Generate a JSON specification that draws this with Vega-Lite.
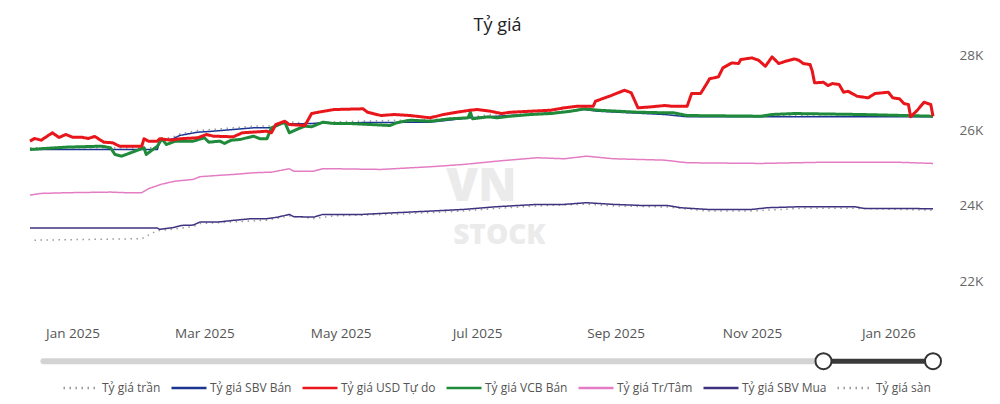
{
  "$schema": "https://vega.github.io/schema/vega-lite/v6.json",
  "width": 903,
  "height": 279,
  "autosize": {"type": "none"},
  "padding": {"left": 30, "top": 40, "right": 67, "bottom": 85},
  "background": "white",
  "title": {"text": "Tỷ giá", "fontSize": 18, "font": "Open Sans", "fontWeight": "normal", "color": "#222222", "anchor": "middle", "frame": "group", "dx": 16, "offset": 5},
  "config": {"view": {"stroke": null}},
  "layer": [
    {
      "data": {"values": [
        {"d": "2024-12-13", "s": "Tỷ giá trần", "v": 25540},
        {"d": "2025-02-08", "s": "Tỷ giá trần", "v": 25545},
        {"d": "2025-02-09", "s": "Tỷ giá trần", "v": 25760},
        {"d": "2025-02-15", "s": "Tỷ giá trần", "v": 25830},
        {"d": "2025-02-18", "s": "Tỷ giá trần", "v": 25910},
        {"d": "2025-02-26", "s": "Tỷ giá trần", "v": 26000},
        {"d": "2025-03-05", "s": "Tỷ giá trần", "v": 26030},
        {"d": "2025-03-14", "s": "Tỷ giá trần", "v": 26070},
        {"d": "2025-03-23", "s": "Tỷ giá trần", "v": 26115},
        {"d": "2025-03-31", "s": "Tỷ giá trần", "v": 26120},
        {"d": "2025-04-08", "s": "Tỷ giá trần", "v": 26230},
        {"d": "2025-04-19", "s": "Tỷ giá trần", "v": 26170},
        {"d": "2025-04-28", "s": "Tỷ giá trần", "v": 26230},
        {"d": "2025-06-10", "s": "Tỷ giá trần", "v": 26290},
        {"d": "2025-06-28", "s": "Tỷ giá trần", "v": 26355},
        {"d": "2025-07-10", "s": "Tỷ giá trần", "v": 26445},
        {"d": "2025-08-09", "s": "Tỷ giá trần", "v": 26510},
        {"d": "2025-08-19", "s": "Tỷ giá trần", "v": 26585},
        {"d": "2025-08-31", "s": "Tỷ giá trần", "v": 26510},
        {"d": "2025-09-23", "s": "Tỷ giá trần", "v": 26475},
        {"d": "2025-10-03", "s": "Tỷ giá trần", "v": 26400},
        {"d": "2025-11-05", "s": "Tỷ giá trần", "v": 26380},
        {"d": "2025-12-05", "s": "Tỷ giá trần", "v": 26420},
        {"d": "2026-01-21", "s": "Tỷ giá trần", "v": 26380},

        {"d": "2024-12-15", "s": "Tỷ giá sàn", "v": 23090},
        {"d": "2025-02-01", "s": "Tỷ giá sàn", "v": 23130},
        {"d": "2025-02-06", "s": "Tỷ giá sàn", "v": 23290},
        {"d": "2025-02-09", "s": "Tỷ giá sàn", "v": 23350},
        {"d": "2025-02-15", "s": "Tỷ giá sàn", "v": 23380},
        {"d": "2025-02-24", "s": "Tỷ giá sàn", "v": 23450},
        {"d": "2025-02-27", "s": "Tỷ giá sàn", "v": 23530},
        {"d": "2025-03-14", "s": "Tỷ giá sàn", "v": 23575},
        {"d": "2025-03-29", "s": "Tỷ giá sàn", "v": 23620},
        {"d": "2025-04-08", "s": "Tỷ giá sàn", "v": 23735},
        {"d": "2025-04-19", "s": "Tỷ giá sàn", "v": 23665},
        {"d": "2025-04-28", "s": "Tỷ giá sàn", "v": 23735},
        {"d": "2025-05-26", "s": "Tỷ giá sàn", "v": 23780},
        {"d": "2025-06-10", "s": "Tỷ giá sàn", "v": 23820},
        {"d": "2025-06-25", "s": "Tỷ giá sàn", "v": 23865},
        {"d": "2025-07-10", "s": "Tỷ giá sàn", "v": 23935},
        {"d": "2025-07-28", "s": "Tỷ giá sàn", "v": 24000},
        {"d": "2025-08-19", "s": "Tỷ giá sàn", "v": 24045},
        {"d": "2025-08-31", "s": "Tỷ giá sàn", "v": 24000},
        {"d": "2025-09-24", "s": "Tỷ giá sàn", "v": 23970},
        {"d": "2025-10-12", "s": "Tỷ giá sàn", "v": 23865},
        {"d": "2025-11-01", "s": "Tỷ giá sàn", "v": 23865},
        {"d": "2025-11-23", "s": "Tỷ giá sàn", "v": 23935},
        {"d": "2025-12-17", "s": "Tỷ giá sàn", "v": 23935},
        {"d": "2026-01-21", "s": "Tỷ giá sàn", "v": 23885},

        {"d": "2024-12-13", "s": "Tỷ giá SBV Mua", "v": 23412},
        {"d": "2025-02-08", "s": "Tỷ giá SBV Mua", "v": 23412},
        {"d": "2025-02-09", "s": "Tỷ giá SBV Mua", "v": 23378},
        {"d": "2025-02-15", "s": "Tỷ giá SBV Mua", "v": 23423},
        {"d": "2025-02-19", "s": "Tỷ giá SBV Mua", "v": 23483},
        {"d": "2025-02-24", "s": "Tỷ giá SBV Mua", "v": 23491},
        {"d": "2025-02-27", "s": "Tỷ giá SBV Mua", "v": 23571},
        {"d": "2025-03-07", "s": "Tỷ giá SBV Mua", "v": 23571},
        {"d": "2025-03-14", "s": "Tỷ giá SBV Mua", "v": 23616},
        {"d": "2025-03-22", "s": "Tỷ giá SBV Mua", "v": 23661},
        {"d": "2025-03-29", "s": "Tỷ giá SBV Mua", "v": 23661},
        {"d": "2025-04-03", "s": "Tỷ giá SBV Mua", "v": 23703},
        {"d": "2025-04-08", "s": "Tỷ giá SBV Mua", "v": 23775},
        {"d": "2025-04-10", "s": "Tỷ giá SBV Mua", "v": 23714},
        {"d": "2025-04-19", "s": "Tỷ giá SBV Mua", "v": 23703},
        {"d": "2025-04-23", "s": "Tỷ giá SBV Mua", "v": 23775},
        {"d": "2025-05-11", "s": "Tỷ giá SBV Mua", "v": 23775},
        {"d": "2025-05-26", "s": "Tỷ giá SBV Mua", "v": 23820},
        {"d": "2025-06-10", "s": "Tỷ giá SBV Mua", "v": 23862},
        {"d": "2025-06-25", "s": "Tỷ giá SBV Mua", "v": 23907},
        {"d": "2025-07-10", "s": "Tỷ giá SBV Mua", "v": 23979},
        {"d": "2025-07-28", "s": "Tỷ giá SBV Mua", "v": 24040},
        {"d": "2025-08-09", "s": "Tỷ giá SBV Mua", "v": 24040},
        {"d": "2025-08-19", "s": "Tỷ giá SBV Mua", "v": 24085},
        {"d": "2025-08-31", "s": "Tỷ giá SBV Mua", "v": 24040},
        {"d": "2025-09-12", "s": "Tỷ giá SBV Mua", "v": 24013},
        {"d": "2025-09-24", "s": "Tỷ giá SBV Mua", "v": 24013},
        {"d": "2025-09-30", "s": "Tỷ giá SBV Mua", "v": 23952},
        {"d": "2025-10-12", "s": "Tỷ giá SBV Mua", "v": 23907},
        {"d": "2025-11-01", "s": "Tỷ giá SBV Mua", "v": 23907},
        {"d": "2025-11-08", "s": "Tỷ giá SBV Mua", "v": 23952},
        {"d": "2025-11-23", "s": "Tỷ giá SBV Mua", "v": 23979},
        {"d": "2025-12-17", "s": "Tỷ giá SBV Mua", "v": 23979},
        {"d": "2025-12-21", "s": "Tỷ giá SBV Mua", "v": 23934},
        {"d": "2026-01-21", "s": "Tỷ giá SBV Mua", "v": 23926},

        {"d": "2024-12-13", "s": "Tỷ giá Tr/Tâm", "v": 24286},
        {"d": "2024-12-18", "s": "Tỷ giá Tr/Tâm", "v": 24331},
        {"d": "2024-12-30", "s": "Tỷ giá Tr/Tâm", "v": 24350},
        {"d": "2025-01-18", "s": "Tỷ giá Tr/Tâm", "v": 24366},
        {"d": "2025-01-25", "s": "Tỷ giá Tr/Tâm", "v": 24350},
        {"d": "2025-02-01", "s": "Tỷ giá Tr/Tâm", "v": 24350},
        {"d": "2025-02-04", "s": "Tỷ giá Tr/Tâm", "v": 24456},
        {"d": "2025-02-10", "s": "Tỷ giá Tr/Tâm", "v": 24578},
        {"d": "2025-02-16", "s": "Tỷ giá Tr/Tâm", "v": 24657},
        {"d": "2025-02-24", "s": "Tỷ giá Tr/Tâm", "v": 24702},
        {"d": "2025-02-27", "s": "Tỷ giá Tr/Tâm", "v": 24774},
        {"d": "2025-03-07", "s": "Tỷ giá Tr/Tâm", "v": 24808},
        {"d": "2025-03-14", "s": "Tỷ giá Tr/Tâm", "v": 24834},
        {"d": "2025-03-23", "s": "Tỷ giá Tr/Tâm", "v": 24879},
        {"d": "2025-03-31", "s": "Tỷ giá Tr/Tâm", "v": 24895},
        {"d": "2025-04-08", "s": "Tỷ giá Tr/Tâm", "v": 24985},
        {"d": "2025-04-10", "s": "Tỷ giá Tr/Tâm", "v": 24922},
        {"d": "2025-04-19", "s": "Tỷ giá Tr/Tâm", "v": 24922},
        {"d": "2025-04-23", "s": "Tỷ giá Tr/Tâm", "v": 24985},
        {"d": "2025-04-28", "s": "Tỷ giá Tr/Tâm", "v": 24985},
        {"d": "2025-05-19", "s": "Tỷ giá Tr/Tâm", "v": 24967},
        {"d": "2025-06-10", "s": "Tỷ giá Tr/Tâm", "v": 25038},
        {"d": "2025-06-25", "s": "Tỷ giá Tr/Tâm", "v": 25099},
        {"d": "2025-07-10", "s": "Tỷ giá Tr/Tâm", "v": 25187},
        {"d": "2025-07-28", "s": "Tỷ giá Tr/Tâm", "v": 25277},
        {"d": "2025-08-09", "s": "Tỷ giá Tr/Tâm", "v": 25250},
        {"d": "2025-08-19", "s": "Tỷ giá Tr/Tâm", "v": 25319},
        {"d": "2025-08-31", "s": "Tỷ giá Tr/Tâm", "v": 25250},
        {"d": "2025-09-23", "s": "Tỷ giá Tr/Tâm", "v": 25213},
        {"d": "2025-10-03", "s": "Tỷ giá Tr/Tâm", "v": 25144},
        {"d": "2025-11-05", "s": "Tỷ giá Tr/Tâm", "v": 25126},
        {"d": "2025-12-05", "s": "Tỷ giá Tr/Tâm", "v": 25160},
        {"d": "2026-01-04", "s": "Tỷ giá Tr/Tâm", "v": 25160},
        {"d": "2026-01-21", "s": "Tỷ giá Tr/Tâm", "v": 25126},

        {"d": "2024-12-13", "s": "Tỷ giá SBV Bán", "v": 25497},
        {"d": "2025-02-08", "s": "Tỷ giá SBV Bán", "v": 25497},
        {"d": "2025-02-09", "s": "Tỷ giá SBV Bán", "v": 25717},
        {"d": "2025-02-15", "s": "Tỷ giá SBV Bán", "v": 25780},
        {"d": "2025-02-18", "s": "Tỷ giá SBV Bán", "v": 25868},
        {"d": "2025-02-26", "s": "Tỷ giá SBV Bán", "v": 25955},
        {"d": "2025-03-05", "s": "Tỷ giá SBV Bán", "v": 25981},
        {"d": "2025-03-14", "s": "Tỷ giá SBV Bán", "v": 26026},
        {"d": "2025-03-23", "s": "Tỷ giá SBV Bán", "v": 26072},
        {"d": "2025-03-31", "s": "Tỷ giá SBV Bán", "v": 26072},
        {"d": "2025-04-04", "s": "Tỷ giá SBV Bán", "v": 26185},
        {"d": "2025-04-10", "s": "Tỷ giá SBV Bán", "v": 26177},
        {"d": "2025-04-18", "s": "Tỷ giá SBV Bán", "v": 26185},
        {"d": "2025-04-22", "s": "Tỷ giá SBV Bán", "v": 26204},
        {"d": "2025-04-28", "s": "Tỷ giá SBV Bán", "v": 26204},
        {"d": "2025-06-10", "s": "Tỷ giá SBV Bán", "v": 26220},
        {"d": "2025-06-28", "s": "Tỷ giá SBV Bán", "v": 26336},
        {"d": "2025-08-09", "s": "Tỷ giá SBV Bán", "v": 26485},
        {"d": "2025-08-18", "s": "Tỷ giá SBV Bán", "v": 26556},
        {"d": "2025-08-24", "s": "Tỷ giá SBV Bán", "v": 26511},
        {"d": "2025-09-23", "s": "Tỷ giá SBV Bán", "v": 26424},
        {"d": "2025-10-03", "s": "Tỷ giá SBV Bán", "v": 26363},
        {"d": "2025-11-05", "s": "Tỷ giá SBV Bán", "v": 26363},
        {"d": "2026-01-21", "s": "Tỷ giá SBV Bán", "v": 26363},

        {"d": "2024-12-13", "s": "Tỷ giá VCB Bán", "v": 25497},
        {"d": "2024-12-29", "s": "Tỷ giá VCB Bán", "v": 25558},
        {"d": "2025-01-14", "s": "Tỷ giá VCB Bán", "v": 25584},
        {"d": "2025-01-18", "s": "Tỷ giá VCB Bán", "v": 25542},
        {"d": "2025-01-20", "s": "Tỷ giá VCB Bán", "v": 25364},
        {"d": "2025-01-23", "s": "Tỷ giá VCB Bán", "v": 25319},
        {"d": "2025-01-31", "s": "Tỷ giá VCB Bán", "v": 25497},
        {"d": "2025-02-02", "s": "Tỷ giá VCB Bán", "v": 25542},
        {"d": "2025-02-03", "s": "Tỷ giá VCB Bán", "v": 25364},
        {"d": "2025-02-08", "s": "Tỷ giá VCB Bán", "v": 25584},
        {"d": "2025-02-10", "s": "Tỷ giá VCB Bán", "v": 25780},
        {"d": "2025-02-12", "s": "Tỷ giá VCB Bán", "v": 25629},
        {"d": "2025-02-16", "s": "Tỷ giá VCB Bán", "v": 25717},
        {"d": "2025-02-24", "s": "Tỷ giá VCB Bán", "v": 25717},
        {"d": "2025-03-01", "s": "Tỷ giá VCB Bán", "v": 25807},
        {"d": "2025-03-03", "s": "Tỷ giá VCB Bán", "v": 25690},
        {"d": "2025-03-08", "s": "Tỷ giá VCB Bán", "v": 25717},
        {"d": "2025-03-10", "s": "Tỷ giá VCB Bán", "v": 25656},
        {"d": "2025-03-13", "s": "Tỷ giá VCB Bán", "v": 25743},
        {"d": "2025-03-17", "s": "Tỷ giá VCB Bán", "v": 25762},
        {"d": "2025-03-23", "s": "Tỷ giá VCB Bán", "v": 25849},
        {"d": "2025-03-26", "s": "Tỷ giá VCB Bán", "v": 25780},
        {"d": "2025-03-29", "s": "Tỷ giá VCB Bán", "v": 25780},
        {"d": "2025-03-31", "s": "Tỷ giá VCB Bán", "v": 26072},
        {"d": "2025-04-06", "s": "Tỷ giá VCB Bán", "v": 26220},
        {"d": "2025-04-08", "s": "Tỷ giá VCB Bán", "v": 25939},
        {"d": "2025-04-12", "s": "Tỷ giá VCB Bán", "v": 26045},
        {"d": "2025-04-15", "s": "Tỷ giá VCB Bán", "v": 26114},
        {"d": "2025-04-18", "s": "Tỷ giá VCB Bán", "v": 26098},
        {"d": "2025-04-23", "s": "Tỷ giá VCB Bán", "v": 26220},
        {"d": "2025-04-28", "s": "Tỷ giá VCB Bán", "v": 26185},
        {"d": "2025-05-05", "s": "Tỷ giá VCB Bán", "v": 26185},
        {"d": "2025-05-14", "s": "Tỷ giá VCB Bán", "v": 26159},
        {"d": "2025-05-23", "s": "Tỷ giá VCB Bán", "v": 26132},
        {"d": "2025-05-26", "s": "Tỷ giá VCB Bán", "v": 26204},
        {"d": "2025-06-01", "s": "Tỷ giá VCB Bán", "v": 26273},
        {"d": "2025-06-10", "s": "Tỷ giá VCB Bán", "v": 26246},
        {"d": "2025-06-19", "s": "Tỷ giá VCB Bán", "v": 26310},
        {"d": "2025-06-27", "s": "Tỷ giá VCB Bán", "v": 26336},
        {"d": "2025-06-28", "s": "Tỷ giá VCB Bán", "v": 26485},
        {"d": "2025-06-29", "s": "Tỷ giá VCB Bán", "v": 26310},
        {"d": "2025-07-06", "s": "Tỷ giá VCB Bán", "v": 26363},
        {"d": "2025-07-10", "s": "Tỷ giá VCB Bán", "v": 26336},
        {"d": "2025-07-16", "s": "Tỷ giá VCB Bán", "v": 26379},
        {"d": "2025-07-25", "s": "Tỷ giá VCB Bán", "v": 26424},
        {"d": "2025-08-03", "s": "Tỷ giá VCB Bán", "v": 26450},
        {"d": "2025-08-12", "s": "Tỷ giá VCB Bán", "v": 26511},
        {"d": "2025-08-18", "s": "Tỷ giá VCB Bán", "v": 26575},
        {"d": "2025-08-24", "s": "Tỷ giá VCB Bán", "v": 26538},
        {"d": "2025-09-02", "s": "Tỷ giá VCB Bán", "v": 26511},
        {"d": "2025-09-11", "s": "Tỷ giá VCB Bán", "v": 26485},
        {"d": "2025-09-23", "s": "Tỷ giá VCB Bán", "v": 26469},
        {"d": "2025-09-27", "s": "Tỷ giá VCB Bán", "v": 26469},
        {"d": "2025-10-03", "s": "Tỷ giá VCB Bán", "v": 26397},
        {"d": "2025-11-05", "s": "Tỷ giá VCB Bán", "v": 26379},
        {"d": "2025-11-10", "s": "Tỷ giá VCB Bán", "v": 26424},
        {"d": "2025-11-20", "s": "Tỷ giá VCB Bán", "v": 26450},
        {"d": "2025-12-20", "s": "Tỷ giá VCB Bán", "v": 26424},
        {"d": "2026-01-21", "s": "Tỷ giá VCB Bán", "v": 26379},

        {"d": "2024-12-13", "s": "Tỷ giá USD Tự do", "v": 25717},
        {"d": "2024-12-15", "s": "Tỷ giá USD Tự do", "v": 25788},
        {"d": "2024-12-18", "s": "Tỷ giá USD Tự do", "v": 25743},
        {"d": "2024-12-23", "s": "Tỷ giá USD Tự do", "v": 25939},
        {"d": "2024-12-26", "s": "Tỷ giá USD Tự do", "v": 25815},
        {"d": "2024-12-29", "s": "Tỷ giá USD Tự do", "v": 25894},
        {"d": "2025-01-01", "s": "Tỷ giá USD Tự do", "v": 25823},
        {"d": "2025-01-05", "s": "Tỷ giá USD Tự do", "v": 25823},
        {"d": "2025-01-08", "s": "Tỷ giá USD Tự do", "v": 25788},
        {"d": "2025-01-11", "s": "Tỷ giá USD Tự do", "v": 25841},
        {"d": "2025-01-15", "s": "Tỷ giá USD Tự do", "v": 25690},
        {"d": "2025-01-19", "s": "Tỷ giá USD Tự do", "v": 25674},
        {"d": "2025-01-22", "s": "Tỷ giá USD Tự do", "v": 25584},
        {"d": "2025-02-01", "s": "Tỷ giá USD Tự do", "v": 25584},
        {"d": "2025-02-02", "s": "Tỷ giá USD Tự do", "v": 25780},
        {"d": "2025-02-04", "s": "Tỷ giá USD Tự do", "v": 25717},
        {"d": "2025-02-08", "s": "Tỷ giá USD Tự do", "v": 25717},
        {"d": "2025-02-09", "s": "Tỷ giá USD Tự do", "v": 25780},
        {"d": "2025-02-14", "s": "Tỷ giá USD Tự do", "v": 25743},
        {"d": "2025-02-18", "s": "Tỷ giá USD Tự do", "v": 25780},
        {"d": "2025-02-26", "s": "Tỷ giá USD Tự do", "v": 25807},
        {"d": "2025-03-02", "s": "Tỷ giá USD Tự do", "v": 25894},
        {"d": "2025-03-05", "s": "Tỷ giá USD Tự do", "v": 25849},
        {"d": "2025-03-14", "s": "Tỷ giá USD Tự do", "v": 25833},
        {"d": "2025-03-18", "s": "Tỷ giá USD Tự do", "v": 25939},
        {"d": "2025-03-29", "s": "Tỷ giá USD Tự do", "v": 25981},
        {"d": "2025-03-31", "s": "Tỷ giá USD Tự do", "v": 25939},
        {"d": "2025-04-02", "s": "Tỷ giá USD Tự do", "v": 26159},
        {"d": "2025-04-06", "s": "Tỷ giá USD Tự do", "v": 26246},
        {"d": "2025-04-08", "s": "Tỷ giá USD Tự do", "v": 26159},
        {"d": "2025-04-15", "s": "Tỷ giá USD Tự do", "v": 26132},
        {"d": "2025-04-18", "s": "Tỷ giá USD Tự do", "v": 26450},
        {"d": "2025-04-21", "s": "Tỷ giá USD Tự do", "v": 26485},
        {"d": "2025-04-28", "s": "Tỷ giá USD Tự do", "v": 26556},
        {"d": "2025-05-11", "s": "Tỷ giá USD Tự do", "v": 26575},
        {"d": "2025-05-13", "s": "Tỷ giá USD Tự do", "v": 26485},
        {"d": "2025-05-19", "s": "Tỷ giá USD Tự do", "v": 26397},
        {"d": "2025-05-25", "s": "Tỷ giá USD Tự do", "v": 26424},
        {"d": "2025-06-01", "s": "Tỷ giá USD Tự do", "v": 26397},
        {"d": "2025-06-10", "s": "Tỷ giá USD Tự do", "v": 26336},
        {"d": "2025-06-16", "s": "Tỷ giá USD Tự do", "v": 26424},
        {"d": "2025-06-22", "s": "Tỷ giá USD Tự do", "v": 26485},
        {"d": "2025-06-28", "s": "Tỷ giá USD Tự do", "v": 26538},
        {"d": "2025-07-01", "s": "Tỷ giá USD Tự do", "v": 26556},
        {"d": "2025-07-07", "s": "Tỷ giá USD Tự do", "v": 26511},
        {"d": "2025-07-12", "s": "Tỷ giá USD Tự do", "v": 26450},
        {"d": "2025-07-16", "s": "Tỷ giá USD Tự do", "v": 26485},
        {"d": "2025-07-25", "s": "Tỷ giá USD Tự do", "v": 26511},
        {"d": "2025-08-03", "s": "Tỷ giá USD Tự do", "v": 26538},
        {"d": "2025-08-09", "s": "Tỷ giá USD Tự do", "v": 26601},
        {"d": "2025-08-15", "s": "Tỷ giá USD Tự do", "v": 26644},
        {"d": "2025-08-22", "s": "Tỷ giá USD Tự do", "v": 26644},
        {"d": "2025-08-23", "s": "Tỷ giá USD Tự do", "v": 26776},
        {"d": "2025-08-30", "s": "Tỷ giá USD Tự do", "v": 26927},
        {"d": "2025-09-05", "s": "Tỷ giá USD Tự do", "v": 27068},
        {"d": "2025-09-08", "s": "Tỷ giá USD Tự do", "v": 26999},
        {"d": "2025-09-11", "s": "Tỷ giá USD Tự do", "v": 26601},
        {"d": "2025-09-17", "s": "Tỷ giá USD Tự do", "v": 26628},
        {"d": "2025-09-23", "s": "Tỷ giá USD Tự do", "v": 26662},
        {"d": "2025-09-26", "s": "Tỷ giá USD Tự do", "v": 26644},
        {"d": "2025-10-03", "s": "Tỷ giá USD Tự do", "v": 26644},
        {"d": "2025-10-05", "s": "Tỷ giá USD Tự do", "v": 26980},
        {"d": "2025-10-09", "s": "Tỷ giá USD Tự do", "v": 26980},
        {"d": "2025-10-12", "s": "Tỷ giá USD Tự do", "v": 27264},
        {"d": "2025-10-13", "s": "Tỷ giá USD Tự do", "v": 27370},
        {"d": "2025-10-17", "s": "Tỷ giá USD Tự do", "v": 27422},
        {"d": "2025-10-19", "s": "Tỷ giá USD Tự do", "v": 27661},
        {"d": "2025-10-23", "s": "Tỷ giá USD Tự do", "v": 27793},
        {"d": "2025-10-26", "s": "Tỷ giá USD Tự do", "v": 27775},
        {"d": "2025-10-27", "s": "Tỷ giá USD Tự do", "v": 27881},
        {"d": "2025-11-01", "s": "Tỷ giá USD Tự do", "v": 27926},
        {"d": "2025-11-04", "s": "Tỷ giá USD Tự do", "v": 27862},
        {"d": "2025-11-07", "s": "Tỷ giá USD Tự do", "v": 27703},
        {"d": "2025-11-10", "s": "Tỷ giá USD Tự do", "v": 27952},
        {"d": "2025-11-13", "s": "Tỷ giá USD Tự do", "v": 27775},
        {"d": "2025-11-16", "s": "Tỷ giá USD Tự do", "v": 27836},
        {"d": "2025-11-20", "s": "Tỷ giá USD Tự do", "v": 27899},
        {"d": "2025-11-22", "s": "Tỷ giá USD Tự do", "v": 27862},
        {"d": "2025-11-24", "s": "Tỷ giá USD Tự do", "v": 27775},
        {"d": "2025-11-27", "s": "Tỷ giá USD Tự do", "v": 27748},
        {"d": "2025-11-28", "s": "Tỷ giá USD Tự do", "v": 27571},
        {"d": "2025-11-29", "s": "Tỷ giá USD Tự do", "v": 27264},
        {"d": "2025-12-03", "s": "Tỷ giá USD Tự do", "v": 27279},
        {"d": "2025-12-05", "s": "Tỷ giá USD Tự do", "v": 27192},
        {"d": "2025-12-07", "s": "Tỷ giá USD Tự do", "v": 27245},
        {"d": "2025-12-10", "s": "Tỷ giá USD Tự do", "v": 27219},
        {"d": "2025-12-12", "s": "Tỷ giá USD Tự do", "v": 27015},
        {"d": "2025-12-14", "s": "Tỷ giá USD Tự do", "v": 27041},
        {"d": "2025-12-18", "s": "Tỷ giá USD Tự do", "v": 26909},
        {"d": "2025-12-23", "s": "Tỷ giá USD Tự do", "v": 26866},
        {"d": "2025-12-26", "s": "Tỷ giá USD Tự do", "v": 26980},
        {"d": "2026-01-01", "s": "Tỷ giá USD Tự do", "v": 27015},
        {"d": "2026-01-03", "s": "Tỷ giá USD Tự do", "v": 26866},
        {"d": "2026-01-06", "s": "Tỷ giá USD Tự do", "v": 26840},
        {"d": "2026-01-08", "s": "Tỷ giá USD Tự do", "v": 26715},
        {"d": "2026-01-10", "s": "Tỷ giá USD Tự do", "v": 26689},
        {"d": "2026-01-11", "s": "Tỷ giá USD Tự do", "v": 26363},
        {"d": "2026-01-14", "s": "Tỷ giá USD Tự do", "v": 26538},
        {"d": "2026-01-17", "s": "Tỷ giá USD Tự do", "v": 26750},
        {"d": "2026-01-20", "s": "Tỷ giá USD Tự do", "v": 26689},
        {"d": "2026-01-21", "s": "Tỷ giá USD Tự do", "v": 26379}
      ]},
      "mark": {"type": "line", "strokeJoin": "round", "zindex": 2},
      "encoding": {
        "x": {
          "field": "d", "type": "temporal",
          "scale": {"domain": [{"year": 2024, "month": 12, "date": 13}, {"year": 2026, "month": 1, "date": 21}]},
          "axis": {
            "values": [
              {"year": 2025, "month": 1, "date": 1},
              {"year": 2025, "month": 3, "date": 1},
              {"year": 2025, "month": 5, "date": 1},
              {"year": 2025, "month": 7, "date": 1},
              {"year": 2025, "month": 9, "date": 1},
              {"year": 2025, "month": 11, "date": 1},
              {"year": 2026, "month": 1, "date": 1}
            ],
            "format": "%b %Y", "title": null, "grid": false, "ticks": false, "domain": false,
            "labelFont": "Open Sans", "labelFontSize": 13.5, "labelColor": "#555555", "labelPadding": 7
          }
        },
        "y": {
          "field": "v", "type": "quantitative",
          "scale": {"domain": [21000, 28400], "nice": false, "zero": false},
          "axis": {
            "orient": "right", "values": [22000, 24000, 26000, 28000],
            "labelExpr": "(datum.value / 1000) + 'K'",
            "title": null, "grid": false, "ticks": false, "domain": false,
            "labelFont": "Open Sans", "labelFontSize": 13.5, "labelColor": "#666666", "labelPadding": 26
          }
        },
        "color": {
          "field": "s", "type": "nominal",
          "scale": {
            "domain": ["Tỷ giá trần", "Tỷ giá SBV Bán", "Tỷ giá USD Tự do", "Tỷ giá VCB Bán", "Tỷ giá Tr/Tâm", "Tỷ giá SBV Mua", "Tỷ giá sàn"],
            "range": ["#9a9a9a", "#1c3590", "#e8161b", "#1e8a3a", "#e47cc3", "#3e3380", "#9a9a9a"]
          },
          "legend": {
            "title": null, "orient": "none", "legendX": 32, "legendY": 329, "direction": "horizontal", "columns": 7,
            "symbolType": "stroke", "symbolSize": 1225, "symbolStrokeWidth": 2.5,
            "labelFont": "Open Sans", "labelFontSize": 12, "labelColor": "#555555", "labelOffset": 2,
            "columnPadding": 5, "labelLimit": 300
          }
        },
        "strokeDash": {
          "field": "s", "type": "nominal",
          "scale": {
            "domain": ["Tỷ giá trần", "Tỷ giá SBV Bán", "Tỷ giá USD Tự do", "Tỷ giá VCB Bán", "Tỷ giá Tr/Tâm", "Tỷ giá SBV Mua", "Tỷ giá sàn"],
            "range": [[1.5, 4.5], [1, 0], [1, 0], [1, 0], [1, 0], [1, 0], [1.5, 4.5]]
          },
          "legend": {
            "title": null, "orient": "none", "legendX": 32, "legendY": 329, "direction": "horizontal", "columns": 7,
            "symbolType": "stroke", "symbolSize": 1225, "symbolStrokeWidth": 2.5,
            "labelFont": "Open Sans", "labelFontSize": 12, "labelColor": "#555555", "labelOffset": 2,
            "columnPadding": 5, "labelLimit": 300
          }
        },
        "strokeWidth": {
          "condition": {"test": "datum.s === 'Tỷ giá USD Tự do' || datum.s === 'Tỷ giá VCB Bán'", "value": 3},
          "value": 1.5
        }
      }
    },
    {
      "data": {"values": [{}]},
      "mark": {"type": "text", "text": "VN", "font": "Open Sans", "fontSize": 46, "fontWeight": 800, "color": "#ebebeb", "align": "center", "baseline": "middle", "zindex": 0},
      "encoding": {
        "x": {"datum": {"year": 2025, "month": 7, "date": 3}, "type": "temporal"},
        "y": {"datum": 24500, "type": "quantitative"}
      }
    },
    {
      "data": {"values": [{}]},
      "mark": {"type": "text", "text": "STOCK", "font": "Open Sans", "fontSize": 28, "fontWeight": 800, "color": "#ebebeb", "align": "center", "baseline": "middle", "zindex": 0},
      "encoding": {
        "x": {"datum": {"year": 2025, "month": 7, "date": 11}, "type": "temporal"},
        "y": {"datum": 23200, "type": "quantitative"}
      }
    },
    {
      "data": {"values": [{}]},
      "mark": {"type": "rule", "color": "#d3d3d3", "strokeWidth": 6, "strokeCap": "round", "zindex": 3},
      "encoding": {
        "x": {"datum": {"year": 2024, "month": 12, "date": 19}, "type": "temporal"},
        "x2": {"datum": {"year": 2025, "month": 12, "date": 3}},
        "y": {"datum": 19881, "type": "quantitative"}
      }
    },
    {
      "data": {"values": [{}]},
      "mark": {"type": "rule", "color": "#3a3a3a", "strokeWidth": 5, "zindex": 3},
      "encoding": {
        "x": {"datum": {"year": 2025, "month": 12, "date": 3}, "type": "temporal"},
        "x2": {"datum": {"year": 2026, "month": 1, "date": 21}},
        "y": {"datum": 19881, "type": "quantitative"}
      }
    },
    {
      "data": {"values": [{}]},
      "mark": {"type": "point", "shape": "circle", "filled": true, "fill": "white", "stroke": "#333333", "strokeWidth": 2, "size": 256, "opacity": 1, "zindex": 4},
      "encoding": {
        "x": {"datum": {"year": 2025, "month": 12, "date": 3}, "type": "temporal"},
        "y": {"datum": 19881, "type": "quantitative"}
      }
    },
    {
      "data": {"values": [{}]},
      "mark": {"type": "point", "shape": "circle", "filled": true, "fill": "white", "stroke": "#333333", "strokeWidth": 2, "size": 256, "opacity": 1, "zindex": 4},
      "encoding": {
        "x": {"datum": {"year": 2026, "month": 1, "date": 21}, "type": "temporal"},
        "y": {"datum": 19881, "type": "quantitative"}
      }
    }
  ]
}
